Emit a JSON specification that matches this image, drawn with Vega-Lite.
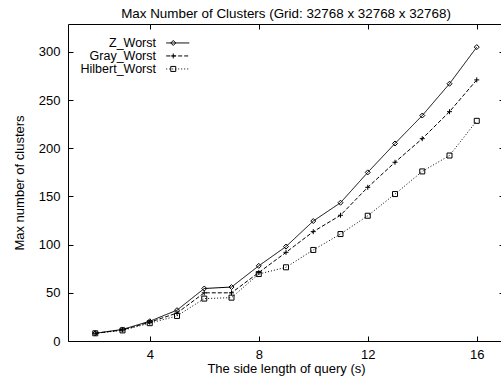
{
  "$schema": "https://vega.github.io/schema/vega-lite/v6.json",
  "width": 436,
  "height": 317,
  "autosize": "none",
  "padding": {"left": 68, "top": 24, "right": 0, "bottom": 38},
  "title": {"text": "Max Number of Clusters (Grid: 32768 x 32768 x 32768)", "fontSize": 13.4, "fontWeight": "normal", "font": "Liberation Sans", "baseline": "alphabetic", "offset": -8, "color": "black"},
  "config": {
    "font": "Liberation Sans",
    "view": {"stroke": "black", "strokeWidth": 1},
    "axis": {"domain": false, "grid": false, "tickSize": -5, "tickColor": "black", "labelFontSize": 13, "labelColor": "black", "titleFontSize": 13, "titleFontWeight": "normal", "titleColor": "black", "labelFlush": false, "labelFont": "Liberation Sans", "titleFont": "Liberation Sans"}
  },
  "data": {"values": [
    {"s": 2, "clusters": 8, "series": "Z_Worst"},
    {"s": 3, "clusters": 12, "series": "Z_Worst"},
    {"s": 4, "clusters": 20.5, "series": "Z_Worst"},
    {"s": 5, "clusters": 32, "series": "Z_Worst"},
    {"s": 6, "clusters": 54.5, "series": "Z_Worst"},
    {"s": 7, "clusters": 56, "series": "Z_Worst"},
    {"s": 8, "clusters": 78, "series": "Z_Worst"},
    {"s": 9, "clusters": 98, "series": "Z_Worst"},
    {"s": 10, "clusters": 124.5, "series": "Z_Worst"},
    {"s": 11, "clusters": 143.5, "series": "Z_Worst"},
    {"s": 12, "clusters": 175, "series": "Z_Worst"},
    {"s": 13, "clusters": 205, "series": "Z_Worst"},
    {"s": 14, "clusters": 234, "series": "Z_Worst"},
    {"s": 15, "clusters": 267, "series": "Z_Worst"},
    {"s": 16, "clusters": 305, "series": "Z_Worst"},
    {"s": 2, "clusters": 8, "series": "Gray_Worst"},
    {"s": 3, "clusters": 11.5, "series": "Gray_Worst"},
    {"s": 4, "clusters": 19.5, "series": "Gray_Worst"},
    {"s": 5, "clusters": 29, "series": "Gray_Worst"},
    {"s": 6, "clusters": 50, "series": "Gray_Worst"},
    {"s": 7, "clusters": 50, "series": "Gray_Worst"},
    {"s": 8, "clusters": 71, "series": "Gray_Worst"},
    {"s": 9, "clusters": 92, "series": "Gray_Worst"},
    {"s": 10, "clusters": 113.5, "series": "Gray_Worst"},
    {"s": 11, "clusters": 130.5, "series": "Gray_Worst"},
    {"s": 12, "clusters": 159.5, "series": "Gray_Worst"},
    {"s": 13, "clusters": 185.5, "series": "Gray_Worst"},
    {"s": 14, "clusters": 210, "series": "Gray_Worst"},
    {"s": 15, "clusters": 238, "series": "Gray_Worst"},
    {"s": 16, "clusters": 271, "series": "Gray_Worst"},
    {"s": 2, "clusters": 8, "series": "Hilbert_Worst"},
    {"s": 3, "clusters": 11, "series": "Hilbert_Worst"},
    {"s": 4, "clusters": 18.5, "series": "Hilbert_Worst"},
    {"s": 5, "clusters": 26, "series": "Hilbert_Worst"},
    {"s": 6, "clusters": 44, "series": "Hilbert_Worst"},
    {"s": 7, "clusters": 45, "series": "Hilbert_Worst"},
    {"s": 8, "clusters": 69.5, "series": "Hilbert_Worst"},
    {"s": 9, "clusters": 76.5, "series": "Hilbert_Worst"},
    {"s": 10, "clusters": 94.5, "series": "Hilbert_Worst"},
    {"s": 11, "clusters": 111, "series": "Hilbert_Worst"},
    {"s": 12, "clusters": 130, "series": "Hilbert_Worst"},
    {"s": 13, "clusters": 152.5, "series": "Hilbert_Worst"},
    {"s": 14, "clusters": 176, "series": "Hilbert_Worst"},
    {"s": 15, "clusters": 192.5, "series": "Hilbert_Worst"},
    {"s": 16, "clusters": 228.5, "series": "Hilbert_Worst"}
  ]},
  "layer": [
    {
      "mark": {"type": "line", "color": "black", "strokeWidth": 1},
      "encoding": {
        "x": {"field": "s", "type": "quantitative", "scale": {"domain": [1, 17], "nice": false, "zero": false},
              "axis": {"orient": "bottom", "values": [4, 8, 12, 16], "title": "The side length of query (s)", "labelPadding": 12.5, "titleY": 31, "titleBaseline": "alphabetic"}},
        "y": {"field": "clusters", "type": "quantitative", "scale": {"domain": [0, 329], "nice": false},
              "axis": {"orient": "left", "values": [0, 50, 100, 150, 200, 250, 300], "title": "Max number of clusters", "labelPadding": 13, "titleX": -45, "titleBaseline": "alphabetic"}},
        "strokeDash": {"field": "series", "type": "nominal",
              "scale": {"domain": ["Z_Worst", "Gray_Worst", "Hilbert_Worst"], "range": [[1, 0], [4, 2], [1, 2]]},
              "legend": {"orient": "none", "legendX": 103.5, "legendY": 12.7, "title": null, "symbolType": "M-3.3,0H3.3", "symbolSize": 49, "symbolStrokeWidth": 1, "symbolStrokeColor": "black", "labelAlign": "right", "labelOffset": -28, "labelFontSize": 12.5, "labelColor": "black", "labelFont": "Liberation Sans", "rowPadding": 0, "padding": 0, "labelBaseline": "middle"}}
      }
    },
    {
      "mark": {"type": "point", "filled": false, "color": "black", "strokeWidth": 1, "size": 25, "opacity": 1},
      "encoding": {
        "x": {"field": "s", "type": "quantitative",
              "axis": {"orient": "top", "values": [4, 8, 12, 16], "labels": false, "title": null}},
        "y": {"field": "clusters", "type": "quantitative",
              "axis": {"orient": "right", "values": [0, 50, 100, 150, 200, 250, 300], "labels": false, "title": null}},
        "shape": {"field": "series", "type": "nominal", "sort": ["Z_Worst", "Gray_Worst", "Hilbert_Worst"],
              "scale": {"range": ["diamond", "M-1,0H1M0,-1V1", "square"]},
              "legend": {"orient": "none", "legendX": 99, "legendY": 12.7, "title": null, "symbolSize": 25, "symbolStrokeWidth": 1, "symbolStrokeColor": "black", "labelOpacity": 0, "labelFontSize": 12.5, "labelFont": "Liberation Sans", "rowPadding": 0, "padding": 0, "labelBaseline": "middle"}}
      }
    }
  ],
  "resolve": {"axis": {"x": "independent", "y": "independent"}}
}
